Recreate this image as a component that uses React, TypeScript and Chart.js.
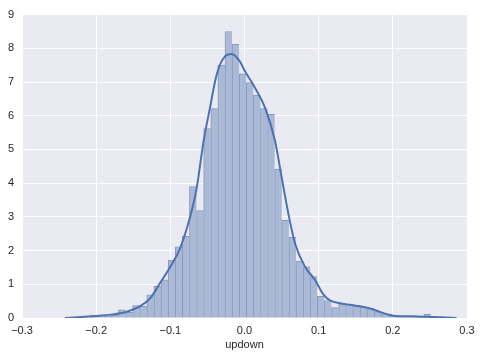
import React, { useEffect, useRef } from "react";
import { Chart, registerables } from "chart.js";

Chart.register(...registerables);

// Histogram bins (48 equal-width bins)
const binStart = -0.2083;
const binEnd = 0.2514;
const binHeights = [
  0.09, 0.09, 0.06, 0.09, 0.24, 0.17, 0.37, 0.35, 0.69, 0.94,
  1.13, 1.72, 2.11, 2.43, 3.9, 3.19, 5.62, 6.21, 7.5, 8.5,
  8.12, 7.24, 6.98, 6.61, 6.21, 6.04, 4.42, 2.9, 2.39, 1.69,
  1.52, 1.23, 0.64, 0.52, 0.31, 0.44, 0.41, 0.37, 0.32, 0.29,
  0.19, 0.12, 0.07, 0.05, 0.05, 0.03, 0.03, 0.11,
];

// KDE curve samples
const kdeX = [
  -0.242, -0.22, -0.2, -0.18, -0.16, -0.14, -0.127, -0.114, -0.1, -0.087,
  -0.074, -0.0645, -0.0555, -0.0465, -0.0375, -0.0263, -0.0173, -0.0128, -0.006, 0.0007,
  0.0141, 0.0276, 0.0411, 0.0501, 0.0591, 0.0681, 0.0816, 0.095, 0.1063, 0.1153,
  0.1288, 0.1422, 0.1557, 0.1692, 0.1827, 0.1943, 0.2007, 0.2276, 0.2456, 0.265, 0.286,
];
const kdeY = [
  0.0, 0.03, 0.06, 0.1, 0.18, 0.36, 0.59, 1.03, 1.52, 2.06,
  2.95, 3.85, 5.2, 6.24, 7.22, 7.76, 7.83, 7.78, 7.6, 7.32,
  6.83, 6.24, 5.26, 4.17, 3.1, 2.21, 1.52, 1.13, 0.7, 0.52,
  0.44, 0.39, 0.35, 0.28, 0.18, 0.1, 0.07, 0.05, 0.04, 0.02, 0.0,
];

const xTicks = [-0.3, -0.2, -0.1, 0.0, 0.1, 0.2, 0.3];
const yTicks = [0, 1, 2, 3, 4, 5, 6, 7, 8, 9];
const xLabel = "updown";

const fmtX = (v: number) => {
  if (Math.abs(v) < 1e-9) return "0.0";
  const s = Math.abs(v).toFixed(1);
  return v < 0 ? "\u2212" + s : s;
};

const bgPlugin = {
  id: "plotBg",
  beforeDraw(chart: any) {
    const { ctx, chartArea } = chart;
    ctx.save();
    ctx.fillStyle = "#EAEAF2";
    ctx.fillRect(chartArea.left, chartArea.top, chartArea.right - chartArea.left, chartArea.bottom - chartArea.top);
    ctx.restore();
  },
};

export default function App() {
  const ref = useRef<HTMLCanvasElement | null>(null);

  useEffect(() => {
    if (!ref.current) return;
    const w = (binEnd - binStart) / binHeights.length;
    const barData = binHeights.map((h, i) => ({ x: binStart + w * (i + 0.5), y: h }));
    const lineData = kdeX.map((x, i) => ({ x, y: kdeY[i] }));
    const font = { family: "'Liberation Sans', Arial, sans-serif", size: 11 };

    const chart = new Chart(ref.current, {
      type: "bar",
      data: {
        datasets: [
          {
            type: "line",
            data: lineData,
            borderColor: "#4C72B0",
            borderWidth: 2,
            pointRadius: 0,
            fill: false,
            cubicInterpolationMode: "monotone",
            order: 0,
          } as any,
          {
            type: "bar",
            data: barData,
            backgroundColor: "rgb(170,185,214)",
            borderColor: "rgb(138,153,188)",
            borderWidth: { left: 1, top: 1, right: 0, bottom: 0 },
            borderSkipped: false,
            barPercentage: 1,
            categoryPercentage: 1,
            order: 1,
          } as any,
        ],
      },
      options: {
        responsive: false,
        animation: false,
        layout: { padding: { top: 13, right: 15, left: 0, bottom: 0 } },
        plugins: { legend: { display: false }, tooltip: { enabled: false } },
        scales: {
          x: {
            type: "linear",
            min: -0.3,
            max: 0.3,
            offset: false,
            afterFit: (s: any) => { s.height = 40; },
            afterBuildTicks: (s: any) => { s.ticks = xTicks.map((v) => ({ value: v })); },
            grid: { color: "#ffffff", lineWidth: 1, drawTicks: false, offset: false },
            border: { display: false },
            ticks: { font, color: "#262626", padding: 6, maxRotation: 0, callback: (v: any) => fmtX(Number(v)) },
            title: { display: true, text: xLabel, font, color: "#262626", padding: { top: 0, bottom: 6 } },
          },
          y: {
            type: "linear",
            min: 0,
            max: 9,
            afterFit: (s: any) => { s.width = 22; },
            afterBuildTicks: (s: any) => { s.ticks = yTicks.map((v) => ({ value: v })); },
            grid: { color: "#ffffff", lineWidth: 1, drawTicks: false },
            border: { display: false },
            ticks: { font, color: "#262626", padding: 8, callback: (v: any) => String(v) },
          },
        },
      },
      plugins: [bgPlugin],
    } as any);
    return () => chart.destroy();
  }, []);

  return (
    <div style={{ position: "absolute", left: 0, top: 0, width: 482, height: 358, background: "#fff" }}>
      <canvas ref={ref} width={482} height={358} style={{ display: "block" }} />
    </div>
  );
}
